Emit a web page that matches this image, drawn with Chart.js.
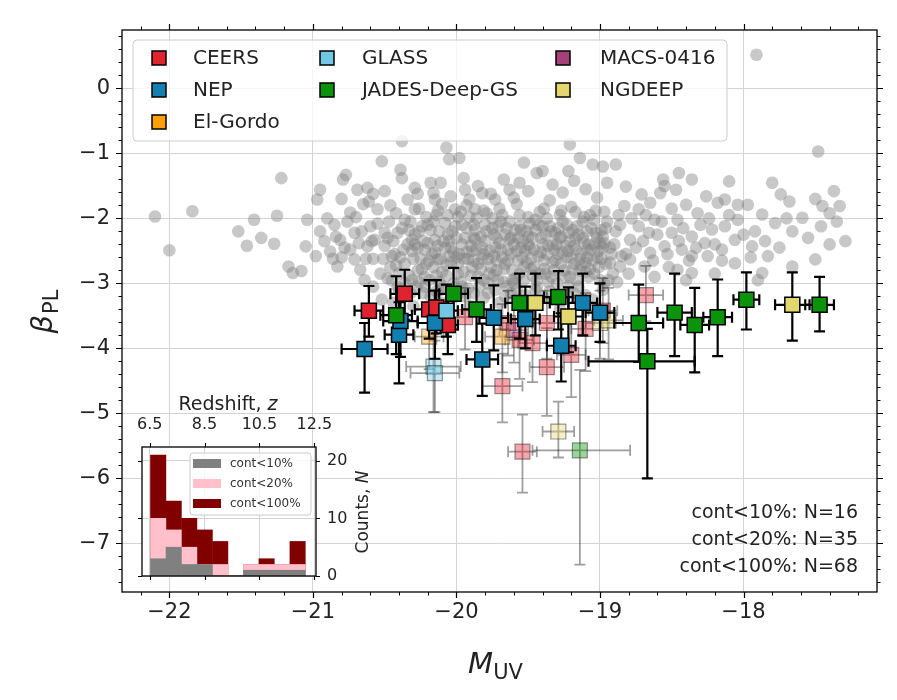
<!DOCTYPE html>
<html>
<head>
<meta charset="utf-8">
<script src="https://cdn.jsdelivr.net/npm/chart.js@4.4.1/dist/chart.umd.min.js"></script>
<style>
  html, body { margin: 0; padding: 0; background: #fff; }
  #wrap { position: relative; width: 897px; height: 700px; }
  #main { position: absolute; left: 0; top: 0; }
  #inset { position: absolute; left: 100px; top: 380px; }
</style>
</head>
<body>
<div id="wrap">
  <canvas id="main" width="897" height="700"></canvas>
  <canvas id="inset" width="300" height="220"></canvas>
</div>
<script>
'use strict';

// ── data ──
const surveys = ['CEERS', 'NEP', 'El-Gordo', 'GLASS', 'JADES-Deep-GS', 'MACS-0416', 'NGDEEP'];
const surveyColors = ['#e0242f', '#137eb0', '#ff9f0a', '#72c7e2', '#0b930b', '#a3417a', '#e3d770'];

// colour-coded sample: survey index, M_UV, beta, errors, bold (cont<20%) or faded
const ptSurvey = [0, 0, 0, 0, 0,
                  1, 1, 1, 1, 1, 1, 1, 1, 1, 1,
                  3,
                  4, 4, 4, 4, 4, 4, 4, 4, 4, 4, 4, 4,
                  6, 6, 6,
                  0, 0, 0, 0, 0, 0, 0, 0, 0, 0, 0, 0,
                  2, 2, 3, 3, 4, 6, 6, 6, 5];
const ptMuv = [-20.61, -20.36, -20.19, -20.14, -20.06,
               -20.64, -20.40, -20.39, -20.15, -19.82, -19.74, -19.52, -19.27, -19.12, -19.00,
               -20.07,
               -20.42, -20.02, -19.86, -19.56, -19.29, -18.73, -18.67, -18.48, -18.34, -18.18, -17.98, -17.47,
               -19.45, -19.22, -17.66,
               -19.68, -19.37, -19.47, -19.37, -19.64, -19.20, -19.94, -19.56, -19.54, -18.68, -18.98, -19.10,
               -20.19, -19.68, -20.16, -20.15, -19.14, -19.00, -18.94, -19.29, -19.60];
const ptBeta = [-3.42, -3.16, -3.40, -3.37, -3.64,
                -4.01, -3.79, -3.58, -3.61, -4.17, -3.53, -3.55, -3.96, -3.30, -3.45,
                -3.42,
                -3.49, -3.16, -3.40, -3.30, -3.21, -3.61, -4.20, -3.45, -3.64, -3.52, -3.25, -3.33,
                -3.30, -3.51, -3.33,
                -4.58, -4.29, -3.92, -3.61, -3.61, -4.10, -3.52, -3.87, -5.59, -3.18, -3.42, -3.70,
                -3.82, -3.82, -4.28, -4.38, -5.57, -3.61, -3.57, -5.28, -3.72];
const ptMuvLo = [0.10, 0.10, 0.10, 0.08, 0.07,
                 0.16, 0.10, 0.12, 0.12, 0.11, 0.10, 0.10, 0.10, 0.10, 0.10,
                 0.08,
                 0.11, 0.10, 0.10, 0.10, 0.10, 0.17, 0.41, 0.12, 0.10, 0.10, 0.09, 0.10,
                 0.10, 0.10, 0.12,
                 0.14, 0.12, 0.10, 0.10, 0.10, 0.10, 0.10, 0.10, 0.10, 0.12, 0.10, 0.10,
                 0.10, 0.12, 0.19, 0.17, 0.33, 0.10, 0.10, 0.11, 0.10];
const ptMuvHi = [0.10, 0.10, 0.10, 0.08, 0.07,
                 0.16, 0.10, 0.12, 0.12, 0.11, 0.10, 0.10, 0.10, 0.10, 0.10,
                 0.08,
                 0.11, 0.10, 0.10, 0.10, 0.10, 0.17, 0.33, 0.12, 0.10, 0.10, 0.09, 0.10,
                 0.10, 0.10, 0.12,
                 0.14, 0.12, 0.10, 0.10, 0.10, 0.10, 0.10, 0.10, 0.10, 0.12, 0.10, 0.10,
                 0.10, 0.12, 0.19, 0.17, 0.35, 0.10, 0.10, 0.11, 0.10];
const ptBetaLo = [0.40, 0.40, 0.45, 0.40, 0.45,
                  0.67, 0.75, 0.55, 0.55, 0.56, 0.50, 0.45, 0.55, 0.50, 0.45,
                  0.40,
                  0.60, 0.55, 0.50, 0.55, 0.50, 0.60, 1.80, 0.67, 0.73, 0.60, 0.46, 0.41,
                  0.50, 0.55, 0.55,
                  0.56, 0.75, 0.60, 0.55, 0.50, 0.65, 0.50, 0.60, 0.63, 0.40, 0.50, 0.65,
                  0.50, 0.55, 0.70, 0.60, 1.76, 0.55, 0.60, 0.40, 0.50];
const ptBetaHi = [0.38, 0.37, 0.45, 0.42, 0.30,
                  0.40, 0.50, 0.45, 0.50, 0.55, 0.50, 0.50, 0.50, 0.45, 0.45,
                  0.40,
                  0.60, 0.40, 0.48, 0.45, 0.40, 0.59, 0.50, 0.60, 0.57, 0.58, 0.42, 0.43,
                  0.45, 0.45, 0.50,
                  0.50, 0.60, 0.55, 0.50, 0.50, 0.55, 0.45, 0.50, 0.57, 0.45, 0.50, 0.55,
                  0.50, 0.50, 0.50, 0.50, 1.24, 0.50, 0.50, 0.46, 0.50];
const ptBold = [1, 1, 1, 1, 1,
                1, 1, 1, 1, 1, 1, 1, 1, 1, 1,
                1,
                1, 1, 1, 1, 1, 1, 1, 1, 1, 1, 1, 1,
                1, 1, 1,
                0, 0, 0, 0, 0, 0, 0, 0, 0, 0, 0, 0,
                0, 0, 0, 0, 0, 0, 0, 0, 0];

// comparison sample (grey): [M_UV, beta]
const fieldGalaxies = [
  [-22.10, -1.97], [-22.00, -2.49], [-21.84, -1.89], [-21.22, -1.38], [-21.52, -2.20], [-21.46, -2.42],
  [-21.41, -2.02], [-21.36, -2.30], [-21.27, -2.39], [-21.25, -1.96], [-21.17, -2.74], [-21.14, -2.84],
  [-21.08, -2.81], [-21.05, -2.43], [-21.04, -2.02], [-20.97, -1.71], [-20.95, -1.56], [-20.85, -2.10],
  [-20.79, -1.40], [-20.77, -1.33], [-20.69, -1.56], [-20.62, -1.53], [-20.61, -1.74], [-20.52, -1.12],
  [-20.50, -1.58], [-20.55, -1.86], [-20.74, -1.91], [-20.71, -2.22], [-20.88, -2.51], [-20.81, -2.33],
  [-20.95, -2.20], [-20.98, -2.58], [-20.83, -2.74], [-20.71, -2.63], [-20.67, -2.79], [-20.62, -2.43],
  [-20.57, -2.33], [-20.45, -2.58], [-20.50, -2.22], [-20.38, -0.81], [-20.39, -1.25], [-20.38, -1.38],
  [-20.29, -1.53], [-20.34, -1.71], [-20.29, -1.86], [-20.36, -2.02], [-20.41, -2.22], [-20.31, -2.33],
  [-20.24, -2.12], [-20.22, -2.48], [-20.15, -2.33], [-20.13, -2.63], [-20.07, -0.91], [-20.05, -1.09],
  [-19.98, -1.07], [-20.11, -1.45], [-20.16, -1.61], [-20.15, -1.71], [-20.04, -1.66], [-19.94, -1.56],
  [-19.91, -1.71], [-19.87, -1.86], [-19.82, -1.61], [-19.73, -1.71], [-19.63, -1.56], [-19.56, -1.45],
  [-20.01, -1.86], [-20.08, -2.07],
  [-19.21, -0.86], [-19.53, -1.14], [-19.14, -1.07], [-19.40, -1.27], [-19.22, -1.27], [-19.05, -1.17],
  [-18.98, -1.20], [-18.89, -1.17], [-17.48, -0.97], [-17.91, 0.52],
  [-18.45, -1.30], [-18.56, -1.40], [-18.36, -1.40], [-18.10, -1.43], [-17.80, -1.45], [-17.37, -1.58],
  [-18.82, -1.51], [-18.71, -1.63], [-18.55, -1.50], [-18.47, -1.56], [-18.26, -1.66], [-18.18, -1.76],
  [-18.13, -1.71], [-18.04, -1.79], [-17.97, -1.79], [-17.87, -1.94], [-17.74, -1.63], [-17.68, -1.74],
  [-17.45, -1.81], [-17.33, -1.81], [-17.40, -1.92], [-17.59, -1.99], [-17.78, -2.07], [-17.46, -2.12],
  [-17.40, -2.40], [-17.29, -2.35], [-17.50, -2.63], [-17.66, -2.20], [-17.66, -2.74], [-17.83, -2.58],
  [-17.87, -2.84], [-17.92, -2.20], [-17.94, -2.43], [-18.04, -2.02], [-18.06, -2.33], [-18.13, -2.12],
  [-18.15, -2.48], [-18.06, -2.69], [-18.22, -2.17], [-18.27, -2.38], [-18.25, -2.58], [-18.32, -1.92],
  [-18.40, -1.79], [-18.46, -2.02], [-18.36, -2.28], [-18.43, -2.48], [-18.36, -2.58], [-18.50, -2.22],
  [-18.55, -2.43], [-18.62, -2.02], [-18.66, -2.22], [-18.73, -2.12], [-18.65, -2.53], [-18.79, -2.33],
  [-18.73, -1.86], [-18.83, -1.81], [-18.79, -2.63], [-18.69, -2.74], [-18.86, -2.74], [-18.36, -2.84],
  [-18.46, -2.79], [-18.58, -1.61], [-18.65, -1.76],
  [-20.45, -2.95], [-20.42, -2.72], [-20.40, -3.10], [-20.37, -2.48], [-20.33, -2.88], [-20.30, -2.62],
  [-20.28, -3.05], [-20.26, -2.20], [-20.24, -2.78], [-20.21, -1.98], [-20.19, -2.95], [-20.17, -2.55],
  [-20.14, -3.12], [-20.12, -2.20], [-20.10, -2.82], [-20.08, -2.45], [-20.06, -1.95], [-20.04, -2.68],
  [-20.02, -3.00], [-20.00, -2.30], [-19.98, -2.55], [-19.97, -1.90], [-19.95, -2.82], [-19.93, -2.15],
  [-19.92, -3.08], [-19.90, -2.42], [-19.88, -2.65], [-19.86, -2.00], [-19.85, -2.90], [-19.83, -2.28],
  [-19.81, -2.55], [-19.79, -1.92], [-19.78, -3.15], [-19.76, -2.75], [-19.75, -2.15], [-19.73, -2.45],
  [-19.71, -2.95], [-19.70, -1.85], [-19.68, -2.60], [-19.66, -2.25], [-19.65, -3.05], [-19.63, -2.05],
  [-19.61, -2.80], [-19.60, -2.40], [-19.58, -1.78], [-19.57, -2.65], [-19.55, -2.18], [-19.53, -2.95],
  [-19.52, -2.50], [-19.50, -1.98], [-19.48, -2.78], [-19.47, -2.30], [-19.45, -3.10], [-19.43, -2.58],
  [-19.42, -1.90], [-19.40, -2.12], [-19.38, -2.85], [-19.36, -2.42], [-19.35, -1.72], [-19.33, -2.68],
  [-19.31, -2.22], [-19.30, -3.00], [-19.28, -1.95], [-19.26, -2.52], [-19.25, -2.80], [-19.23, -2.10],
  [-19.21, -2.35], [-19.20, -1.82], [-19.18, -2.70], [-19.16, -2.95], [-19.15, -2.25], [-19.13, -2.55],
  [-19.11, -1.98], [-19.10, -2.82], [-19.08, -2.40], [-19.06, -2.15], [-19.05, -2.65], [-19.03, -1.88],
  [-19.01, -2.50], [-19.00, -2.95], [-18.98, -2.28], [-18.96, -2.70], [-18.95, -2.05], [-18.93, -2.45],
  [-18.91, -2.85], [-18.89, -2.20], [-18.87, -1.95], [-18.85, -2.58],
  [-20.44, -2.35], [-20.39, -2.60], [-20.35, -3.20], [-20.32, -2.05], [-20.27, -2.45], [-20.23, -3.15],
  [-20.20, -2.38], [-20.16, -2.75], [-20.13, -1.88], [-20.09, -3.05], [-20.05, -2.58], [-20.01, -2.12],
  [-19.99, -2.85], [-19.96, -2.40], [-19.94, -3.20], [-19.91, -1.98], [-19.89, -2.75], [-19.87, -2.32],
  [-19.84, -3.05], [-19.82, -2.62], [-19.80, -2.10], [-19.77, -2.50], [-19.74, -2.88], [-19.72, -2.30],
  [-19.69, -2.05], [-19.67, -2.78], [-19.64, -2.48], [-19.62, -3.15], [-19.59, -2.18], [-19.56, -2.85],
  [-19.54, -2.35], [-19.51, -2.68], [-19.49, -2.08], [-19.46, -2.48], [-19.44, -2.95], [-19.41, -2.30],
  [-19.39, -2.65], [-19.37, -2.00], [-19.34, -2.90], [-19.32, -2.48], [-19.29, -2.15], [-19.27, -2.70],
  [-19.24, -2.42], [-19.22, -3.05], [-19.19, -2.18], [-19.17, -2.48], [-19.14, -2.80], [-19.12, -2.30],
  [-19.09, -2.60], [-19.07, -1.95], [-19.04, -2.85], [-19.02, -2.30], [-18.99, -2.62], [-18.97, -1.90],
  [-18.94, -2.95], [-18.92, -2.55],
  [-20.43, -2.55], [-20.40, -2.85], [-20.38, -2.15], [-20.34, -2.40], [-20.31, -2.95], [-20.29, -2.25],
  [-20.25, -2.62], [-20.22, -2.90], [-20.18, -2.18], [-20.15, -2.52], [-20.12, -2.98], [-20.09, -2.35],
  [-20.07, -2.72], [-20.03, -2.20], [-20.00, -2.60], [-19.97, -2.98], [-19.94, -2.30], [-19.92, -2.62],
  [-19.88, -2.10], [-19.86, -2.48], [-19.83, -2.78], [-19.80, -2.35], [-19.78, -2.62], [-19.75, -2.00],
  [-19.72, -2.65], [-19.70, -2.38], [-19.67, -2.98], [-19.65, -2.15], [-19.62, -2.55], [-19.59, -2.92],
  [-19.57, -2.30], [-19.54, -2.60], [-19.51, -2.20], [-19.49, -2.45], [-19.46, -2.75], [-19.43, -2.10],
  [-19.41, -2.52], [-19.38, -2.25], [-19.36, -2.98], [-19.33, -2.40], [-19.31, -2.65], [-19.28, -2.30],
  [-19.26, -2.05], [-19.23, -2.60], [-19.21, -2.90], [-19.18, -2.42], [-19.16, -2.12], [-19.13, -2.72],
  [-19.11, -2.38], [-19.08, -2.90], [-19.06, -2.48], [-19.03, -2.22], [-19.01, -2.75], [-18.98, -2.45],
  [-18.96, -2.15], [-18.93, -2.68],
  [-20.36, -2.70], [-20.31, -2.50], [-20.27, -2.80], [-20.23, -2.35], [-20.19, -2.65], [-20.16, -2.05],
  [-20.13, -2.42], [-20.11, -2.62], [-20.07, -2.88], [-20.05, -2.35], [-20.02, -2.52], [-19.99, -2.70],
  [-19.96, -2.10], [-19.93, -2.52], [-19.90, -2.88], [-19.88, -2.30], [-19.85, -2.70], [-19.82, -2.45],
  [-19.79, -2.20], [-19.77, -2.85], [-19.74, -2.58], [-19.71, -2.12], [-19.69, -2.48], [-19.66, -2.70],
  [-19.63, -2.32], [-19.61, -2.95], [-19.58, -2.50], [-19.56, -2.12], [-19.53, -2.75], [-19.50, -2.40],
  [-19.48, -2.62], [-19.45, -2.18], [-19.42, -2.85], [-19.40, -2.40], [-19.37, -2.55], [-19.35, -2.12],
  [-19.32, -2.80], [-19.29, -2.55], [-19.27, -2.28], [-19.24, -2.90], [-19.22, -2.50], [-19.19, -2.78],
  [-19.17, -2.30], [-19.14, -2.62], [-19.12, -2.05], [-19.09, -2.48], [-19.07, -2.78], [-19.04, -2.40],
  [-19.02, -2.60], [-18.99, -2.18],
  [-20.29, -2.40], [-20.21, -2.70], [-20.14, -2.88], [-20.04, -2.45], [-19.95, -2.62], [-19.89, -2.50],
  [-19.81, -2.95], [-19.72, -2.80], [-19.64, -2.65], [-19.55, -2.45], [-19.47, -2.88], [-19.39, -2.78],
  [-19.30, -2.40], [-19.20, -2.60], [-19.10, -2.68], [-19.00, -2.38],
  [-20.42, -1.92], [-20.33, -2.18], [-20.26, -1.85], [-20.20, -2.10], [-20.14, -1.95], [-20.06, -2.25],
  [-19.99, -1.98], [-19.93, -1.80], [-19.87, -2.18], [-19.81, -1.88], [-19.74, -2.25], [-19.68, -1.95],
  [-19.62, -2.30], [-19.56, -1.95], [-19.50, -2.28], [-19.45, -2.02], [-19.39, -1.85], [-19.34, -2.20],
  [-19.27, -1.88], [-19.22, -2.22], [-19.17, -1.90], [-19.09, -2.20], [-19.04, -2.02], [-18.97, -2.38],
  [-20.41, -3.05], [-20.32, -3.15], [-20.26, -2.98], [-20.18, -3.20], [-20.11, -3.10], [-20.03, -3.22],
  [-19.96, -3.05], [-19.88, -3.15], [-19.81, -3.22], [-19.73, -3.10], [-19.66, -3.20], [-19.60, -3.00],
  [-19.52, -3.18], [-19.44, -3.05], [-19.35, -3.12], [-19.25, -3.22], [-19.15, -3.05], [-19.10, -3.18],
  [-18.97, -3.00],
  [-20.27, -1.62], [-20.18, -1.45], [-20.10, -1.78], [-19.95, -1.38], [-19.85, -1.50], [-19.76, -1.62],
  [-19.67, -1.40], [-19.60, -1.68], [-19.50, -1.58], [-19.44, -1.30], [-19.33, -1.48], [-19.26, -1.60],
  [-19.18, -1.42], [-19.10, -1.55], [-19.02, -1.68], [-18.95, -1.45],
  [-20.58, -3.05], [-20.52, -3.25], [-20.48, -2.92], [-20.44, -3.30], [-20.36, -3.00], [-20.30, -3.35],
  [-20.22, -3.05], [-20.10, -3.30], [-19.98, -3.15], [-19.90, -3.35], [-19.78, -3.00], [-19.70, -3.30],
  [-19.58, -3.10], [-19.48, -3.35], [-19.40, -3.20], [-19.28, -3.40], [-19.18, -3.15], [-19.05, -3.25],
  [-18.98, -3.10],
  [-20.92, -2.35], [-20.86, -2.62], [-20.78, -2.45], [-20.76, -2.05], [-20.68, -2.38], [-20.64, -2.95],
  [-20.60, -2.12], [-20.58, -2.62], [-20.53, -2.85], [-20.50, -2.42], [-20.47, -2.05], [-20.46, -2.75],
  [-20.90, -2.00], [-20.84, -2.28], [-20.80, -2.60], [-20.74, -2.48], [-20.70, -1.98], [-20.66, -2.20],
  [-20.63, -2.62], [-20.59, -2.35], [-20.55, -2.08], [-20.51, -2.62], [-20.48, -2.30], [-20.46, -1.80],
  [-20.65, -1.78], [-20.58, -1.62], [-20.80, -1.70],
  [-18.88, -2.98], [-18.80, -2.85], [-18.62, -2.90], [-18.52, -2.75], [-18.40, -2.95], [-18.20, -2.85],
  [-17.90, -2.95],
  [-18.90, -2.40], [-18.86, -2.10], [-18.82, -2.55], [-18.78, -2.00], [-18.75, -2.45], [-18.70, -2.35],
  [-18.68, -1.95], [-18.63, -2.65], [-18.60, -2.25], [-18.57, -2.05], [-18.53, -2.55], [-18.50, -1.85],
  [-18.45, -2.35], [-18.42, -2.15], [-18.38, -2.65], [-18.33, -2.45], [-18.30, -2.10], [-18.24, -2.00],
  [-18.20, -2.40], [-18.15, -2.65], [-18.10, -1.95], [-18.00, -2.25], [-17.95, -2.60], [-17.85, -2.35],
  [-17.75, -2.45], [-17.70, -2.00], [-17.55, -2.30], [-17.50, -1.70], [-17.35, -2.05]
];

// axis ticks
const xMajor = [-22, -21, -20, -19, -18];
const yMajor = [-7, -6, -5, -4, -3, -2, -1, 0];

// inset histogram of redshifts
const zEdges = [6.53, 7.09, 7.66, 8.22, 8.79, 9.35, 9.91, 10.48, 11.04, 11.61, 12.17];
const histCont10 = [3, 5, 2, 2, 0, 0, 1, 1, 1, 1];
const histCont20 = [10, 8, 5, 2, 2, 0, 2, 2, 2, 2];
const histCont100 = [21, 13, 10, 8, 6, 0, 2, 3, 2, 6];
const histLabels = ['cont<10%', 'cont<20%', 'cont<100%'];
const histColors = ['#808080', '#ffc0cb', '#800000'];
const zTicks = [6.5, 8.5, 10.5, 12.5];
const countTicks = [0, 10, 20];

const annotLines = ['cont<10%: N=16', 'cont<20%: N=35', 'cont<100%: N=68'];

// ── helpers ──
const FONT = "'DejaVu Sans', sans-serif";
const TXT = '#222';
const GRID = '#d3d3d3';

const minusFmt = v => (v < 0 ? '\u2212' + Math.abs(v) : String(v));

function rgba(hex, a) {
  const n = parseInt(hex.slice(1), 16);
  return `rgba(${(n >> 16) & 255},${(n >> 8) & 255},${n & 255},${a})`;
}

function buildSet(bold, order) {
  const idx = ptMuv.map((_, i) => i).filter(i => ptBold[i] === bold);
  return {
    label: bold ? 'cont<20%' : 'cont<100%',
    data: idx.map(i => ({ x: ptMuv[i], y: ptBeta[i] })),
    pointStyle: 'rect',
    pointRadius: 10.6,
    pointHoverRadius: 10.6,
    backgroundColor: idx.map(i => bold ? surveyColors[ptSurvey[i]] : rgba(surveyColors[ptSurvey[i]], 0.4)),
    borderColor: bold ? '#000' : 'rgba(0,0,0,0.4)',
    borderWidth: bold ? 1.5 : 1.2,
    order: order,
    errIdx: idx,
    errColor: bold ? '#000' : 'rgba(0,0,0,0.38)',
    errWidth: bold ? 2.2 : 1.8
  };
}

function roundBox(ctx, x, y, w, h, r) {
  ctx.beginPath();
  ctx.moveTo(x + r, y);
  ctx.arcTo(x + w, y, x + w, y + h, r);
  ctx.arcTo(x + w, y + h, x, y + h, r);
  ctx.arcTo(x, y + h, x, y, r);
  ctx.arcTo(x, y, x + w, y, r);
  ctx.closePath();
}

// ── error bars, drawn just under each dataset's markers ──
const errorBarPlugin = {
  id: 'errorBars',
  beforeDatasetDraw(chart, args) {
    const ds = chart.data.datasets[args.index];
    if (!ds.errIdx) return;
    const xs = chart.scales.x, ys = chart.scales.y, a = chart.chartArea;
    const ctx = chart.ctx;
    const cap = 5.5;
    ctx.save();
    ctx.beginPath();
    ctx.rect(a.left, a.top, a.right - a.left, a.bottom - a.top);
    ctx.clip();
    ctx.strokeStyle = ds.errColor;
    ctx.lineWidth = ds.errWidth;
    ds.errIdx.forEach(i => {
      const px = xs.getPixelForValue(ptMuv[i]);
      const py = ys.getPixelForValue(ptBeta[i]);
      const x0 = xs.getPixelForValue(ptMuv[i] - ptMuvLo[i]);
      const x1 = xs.getPixelForValue(ptMuv[i] + ptMuvHi[i]);
      const y0 = ys.getPixelForValue(ptBeta[i] - ptBetaLo[i]);
      const y1 = ys.getPixelForValue(ptBeta[i] + ptBetaHi[i]);
      ctx.beginPath();
      ctx.moveTo(x0, py); ctx.lineTo(x1, py);
      ctx.moveTo(px, y0); ctx.lineTo(px, y1);
      ctx.moveTo(x0, py - cap); ctx.lineTo(x0, py + cap);
      ctx.moveTo(x1, py - cap); ctx.lineTo(x1, py + cap);
      ctx.moveTo(px - cap, y0); ctx.lineTo(px + cap, y0);
      ctx.moveTo(px - cap, y1); ctx.lineTo(px + cap, y1);
      ctx.stroke();
    });
    ctx.restore();
  }
};

// ── frame, outward ticks, legend, labels ──
function drawTicks(ctx, scale, area, horizontal, step, majors, majLen, minLen) {
  const lo = Math.min(scale.min, scale.max), hi = Math.max(scale.min, scale.max);
  const vals = [];
  for (let k = Math.ceil(lo / step - 1e-6); k * step <= hi + 1e-9; k++) vals.push(+(k * step).toFixed(4));
  vals.forEach(v => {
    const isMaj = majors.some(m => Math.abs(m - v) < 1e-6);
    const len = isMaj ? majLen : minLen;
    const p = Math.round(scale.getPixelForValue(v)) + 0.5;
    ctx.lineWidth = isMaj ? 1.2 : 1;
    ctx.beginPath();
    if (horizontal) {
      ctx.moveTo(p, area.bottom); ctx.lineTo(p, area.bottom + len);
      ctx.moveTo(p, area.top); ctx.lineTo(p, area.top - len);
    } else {
      ctx.moveTo(area.left, p); ctx.lineTo(area.left - len, p);
      ctx.moveTo(area.right, p); ctx.lineTo(area.right + len, p);
    }
    ctx.stroke();
  });
}

const mainDecor = {
  id: 'mainDecor',
  afterDatasetsDraw(chart) {
    const ctx = chart.ctx, a = chart.chartArea;
    ctx.save();
    // frame
    ctx.strokeStyle = '#000';
    ctx.lineWidth = 1.3;
    ctx.strokeRect(a.left, a.top, a.right - a.left, a.bottom - a.top);
    drawTicks(ctx, chart.scales.x, a, true, 0.2, xMajor, 6, 3.5);
    drawTicks(ctx, chart.scales.y, a, false, 0.2, yMajor, 6, 3.5);

    // legend: matplotlib-style columns of 3, 2, 2 entries
    roundBox(ctx, 133, 40, 594, 101, 4);
    ctx.fillStyle = 'rgba(255,255,255,0.8)';
    ctx.fill();
    ctx.strokeStyle = '#cccccc';
    ctx.lineWidth = 1;
    ctx.stroke();
    const legCol = [0, 0, 0, 1, 1, 2, 2];
    const legRow = [0, 1, 2, 0, 1, 0, 1];
    const colMarker = [159, 327, 563];
    const colText = [193, 362, 600];
    ctx.font = `20px ${FONT}`;
    ctx.textBaseline = 'middle';
    ctx.textAlign = 'left';
    surveys.forEach((name, i) => {
      const c = legCol[i];
      const y = 58 + legRow[i] * 32;
      ctx.fillStyle = surveyColors[i];
      ctx.fillRect(colMarker[c] - 7, y - 7, 14, 14);
      ctx.strokeStyle = '#000';
      ctx.lineWidth = 1.5;
      ctx.strokeRect(colMarker[c] - 7, y - 7, 14, 14);
      ctx.fillStyle = TXT;
      ctx.fillText(name, colText[c], y + 1);
    });

    // sample sizes
    ctx.font = `19px ${FONT}`;
    ctx.textAlign = 'right';
    annotLines.forEach((t, i) => ctx.fillText(t, 858, 513 + i * 27));

    // x title M_UV
    ctx.textBaseline = 'alphabetic';
    ctx.textAlign = 'left';
    ctx.font = `italic 29px ${FONT}`;
    const wM = ctx.measureText('M').width;
    ctx.font = `21px ${FONT}`;
    const wUV = ctx.measureText('UV').width;
    const cx = (a.left + a.right) / 2 - (wM + wUV) / 2 - 4;
    ctx.font = `italic 29px ${FONT}`;
    ctx.fillText('M', cx, 673);
    ctx.font = `21px ${FONT}`;
    ctx.fillText('UV', cx + wM, 679);

    // y title beta_PL
    ctx.save();
    ctx.translate(52, 312);
    ctx.rotate(-Math.PI / 2);
    ctx.font = `italic 29px ${FONT}`;
    const wB = ctx.measureText('\u03b2').width;
    ctx.font = `21px ${FONT}`;
    const wPL = ctx.measureText('PL').width;
    const sx = -(wB + wPL) / 2;
    ctx.font = `italic 29px ${FONT}`;
    ctx.fillText('\u03b2', sx, 0);
    ctx.font = `21px ${FONT}`;
    ctx.fillText('PL', sx + wB + 1, 6);
    ctx.restore();

    ctx.restore();
  }
};

Chart.defaults.font.family = FONT;
Chart.defaults.color = TXT;

new Chart(document.getElementById('main'), {
  type: 'scatter',
  data: {
    datasets: [
      {
        label: 'field',
        data: fieldGalaxies.map(([m, b]) => ({ x: m, y: b })),
        pointRadius: 6.3,
        pointHoverRadius: 6.3,
        backgroundColor: 'rgba(128,128,128,0.43)',
        borderWidth: 0,
        order: 3
      },
      buildSet(0, 2),
      buildSet(1, 1)
    ]
  },
  options: {
    responsive: false,
    animation: false,
    events: [],
    layout: { padding: { left: 0, right: 20, top: 30, bottom: 0 } },
    plugins: { legend: { display: false }, tooltip: { enabled: false } },
    scales: {
      x: {
        type: 'linear', min: -22.33, max: -17.07,
        afterBuildTicks: s => { s.ticks = xMajor.map(v => ({ value: v })); },
        afterFit: s => { s.height = 108; },
        grid: { color: GRID, lineWidth: 1, drawTicks: false },
        border: { display: false },
        ticks: { padding: 8, font: { size: 21 }, color: TXT, callback: v => minusFmt(v), maxRotation: 0 }
      },
      y: {
        type: 'linear', min: -7.75, max: 0.9,
        afterBuildTicks: s => { s.ticks = yMajor.map(v => ({ value: v })); },
        afterFit: s => { s.width = 122; },
        grid: { color: GRID, lineWidth: 1, drawTicks: false },
        border: { display: false },
        ticks: { padding: 12, font: { size: 21 }, color: TXT, callback: v => minusFmt(v) }
      }
    }
  },
  plugins: [errorBarPlugin, mainDecor]
});

// ── inset: redshift histogram ──
const zCenters = zEdges.slice(0, -1).map((e, i) => (e + zEdges[i + 1]) / 2);

const insetDecor = {
  id: 'insetDecor',
  beforeDraw(chart) {
    const ctx = chart.ctx, a = chart.chartArea;
    ctx.save();
    ctx.fillStyle = '#fff';
    ctx.fillRect(a.left, a.top, a.right - a.left, a.bottom - a.top);
    ctx.restore();
  },
  afterDatasetsDraw(chart) {
    const ctx = chart.ctx, a = chart.chartArea;
    const xs = chart.scales.x, ys = chart.scales.y;
    ctx.save();
    ctx.strokeStyle = '#000';
    ctx.lineWidth = 1.3;
    ctx.strokeRect(a.left, a.top, a.right - a.left, a.bottom - a.top);
    ctx.lineWidth = 1.1;
    ctx.beginPath();
    zTicks.forEach(v => {
      const p = Math.round(xs.getPixelForValue(v)) + 0.5;
      ctx.moveTo(p, a.top); ctx.lineTo(p, a.top - 4);
      ctx.moveTo(p, a.bottom); ctx.lineTo(p, a.bottom + 4);
    });
    countTicks.forEach(v => {
      const p = Math.round(ys.getPixelForValue(v)) + 0.5;
      ctx.moveTo(a.left, p); ctx.lineTo(a.left - 4, p);
      ctx.moveTo(a.right, p); ctx.lineTo(a.right + 4, p);
    });
    ctx.stroke();

    // inset legend
    roundBox(ctx, 90, 73, 121, 62, 3);
    ctx.fillStyle = 'rgba(255,255,255,0.8)';
    ctx.fill();
    ctx.strokeStyle = '#cccccc';
    ctx.lineWidth = 1;
    ctx.stroke();
    ctx.font = `12px ${FONT}`;
    ctx.textBaseline = 'middle';
    histLabels.forEach((t, i) => {
      const y = 83 + i * 20;
      ctx.fillStyle = histColors[i];
      ctx.fillRect(93, y - 4, 28, 9);
      ctx.fillStyle = '#333';
      ctx.fillText(t, 130, y + 1);
    });

    // top title "Redshift, z"
    ctx.fillStyle = TXT;
    ctx.textBaseline = 'alphabetic';
    ctx.font = `19px ${FONT}`;
    const w1 = ctx.measureText('Redshift, ').width;
    ctx.font = `italic 19px ${FONT}`;
    const w2 = ctx.measureText('z').width;
    const sx = 128 - (w1 + w2) / 2;
    ctx.font = `19px ${FONT}`;
    ctx.fillText('Redshift, ', sx, 30);
    ctx.font = `italic 19px ${FONT}`;
    ctx.fillText('z', sx + w1, 30);

    // right title "Counts, N"
    ctx.translate(268, 132);
    ctx.rotate(-Math.PI / 2);
    ctx.font = `17px ${FONT}`;
    const w3 = ctx.measureText('Counts, ').width;
    ctx.font = `italic 17px ${FONT}`;
    const w4 = ctx.measureText('N').width;
    const sy = -(w3 + w4) / 2;
    ctx.font = `17px ${FONT}`;
    ctx.fillText('Counts, ', sy, 0);
    ctx.font = `italic 17px ${FONT}`;
    ctx.fillText('N', sy + w3, 0);
    ctx.restore();
  }
};

new Chart(document.getElementById('inset'), {
  type: 'bar',
  data: {
    datasets: [
      { label: histLabels[0], data: zCenters.map((z, i) => ({ x: z, y: histCont10[i] })), backgroundColor: histColors[0] },
      { label: histLabels[1], data: zCenters.map((z, i) => ({ x: z, y: histCont20[i] })), backgroundColor: histColors[1] },
      { label: histLabels[2], data: zCenters.map((z, i) => ({ x: z, y: histCont100[i] })), backgroundColor: histColors[2] }
    ]
  },
  options: {
    responsive: false,
    animation: false,
    events: [],
    layout: { padding: { left: 42, right: 0, top: 0, bottom: 24 } },
    datasets: { bar: { grouped: false, barPercentage: 1, categoryPercentage: 1, borderWidth: 0 } },
    plugins: { legend: { display: false }, tooltip: { enabled: false } },
    scales: {
      x: {
        type: 'linear', position: 'top', min: 6.22, max: 12.56, offset: false,
        afterBuildTicks: s => { s.ticks = zTicks.map(v => ({ value: v })); },
        afterFit: s => { s.height = 67; },
        grid: { color: GRID, drawTicks: false, offset: false },
        border: { display: false },
        ticks: { padding: 13, font: { size: 16 }, color: TXT, callback: v => Number(v).toFixed(1), maxRotation: 0 }
      },
      y: {
        type: 'linear', position: 'right', min: 0, max: 22.4,
        afterBuildTicks: s => { s.ticks = countTicks.map(v => ({ value: v })); },
        afterFit: s => { s.width = 84; },
        grid: { color: GRID, drawTicks: false },
        border: { display: false },
        ticks: { padding: 11, font: { size: 16 }, color: TXT }
      }
    }
  },
  plugins: [insetDecor]
});
</script>
</body>
</html>
